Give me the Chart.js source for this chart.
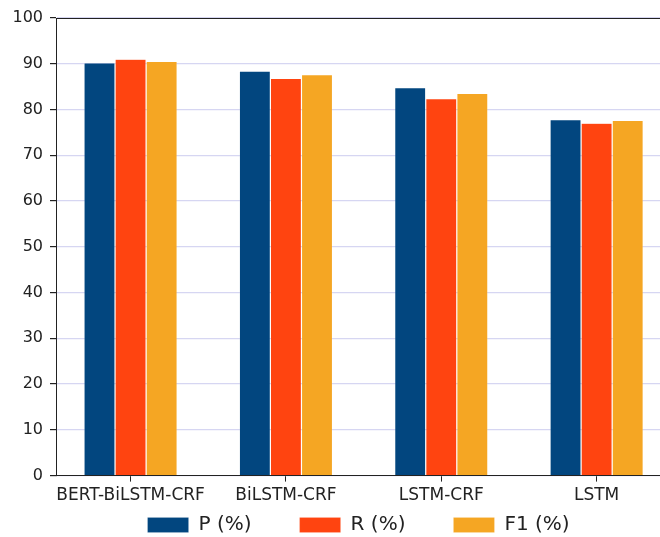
<!DOCTYPE html>
<html>
<head>
<meta charset="utf-8">
<script src="https://cdn.jsdelivr.net/npm/chart.js@4.4.1/dist/chart.umd.min.js"></script>
<style>
  html, body { margin: 0; padding: 0; background: #ffffff; overflow: hidden; }
  #wrap { position: relative; width: 690px; height: 537px; }
</style>
</head>
<body>
<div id="wrap"><canvas id="c"></canvas></div>
<script>
const categories = ["BERT-BiLSTM-CRF", "BiLSTM-CRF", "LSTM-CRF", "LSTM"];
const seriesNames = ["P (%)", "R (%)", "F1 (%)"];
const pValues  = [90.2, 88.4, 84.8, 77.8];
const rValues  = [91.0, 86.8, 82.4, 77.0];
const f1Values = [90.5, 87.6, 83.5, 77.6];
const yTicks = [0, 10, 20, 30, 40, 50, 60, 70, 80, 90, 100];
const colors = ["#02467F", "#FF4410", "#F5A623"];

const FONT = "'DejaVu Sans', 'Liberation Sans', sans-serif";
const toPoints = vals => vals.map((v, i) => ({ x: i, y: v }));
const allSeries = [pValues, rValues, f1Values];

const LEGEND_PAD = 48;     // horizontal spacing between legend entries
const LEGEND_GAP = 5;      // vertical gap between tick labels and legend row

// Legend padding in Chart.js is used both horizontally and vertically;
// lift the legend row so only the horizontal spacing is kept.
const legendLift = {
  id: "legendLift",
  afterLayout(chart) {
    const lg = chart.legend;
    if (!lg) return;
    const dy = LEGEND_PAD - LEGEND_GAP;
    lg.top -= dy;
    lg.height += dy;
    lg.left -= 5; lg.right -= 5;
  }
};

new Chart(document.getElementById("c"), {
  type: "bar",
  data: {
    datasets: allSeries.map((vals, k) => ({
      label: seriesNames[k],
      data: toPoints(vals),
      backgroundColor: colors[k],
      borderColor: "rgba(255,255,255,0.25)",
      borderWidth: 0.6,
      categoryPercentage: 0.6,
      barPercentage: 1.0
    }))
  },
  plugins: [legendLift],
  options: {
    responsive: true,
    maintainAspectRatio: false,
    animation: false,
    devicePixelRatio: 1,
    layout: { padding: { left: 0, right: 18.8, top: 18, bottom: 0 } },
    plugins: {
      tooltip: { enabled: false },
      legend: {
        position: "bottom",
        fullSize: false,
        maxHeight: 27,
        labels: {
          boxWidth: 41,
          boxHeight: 15,
          padding: LEGEND_PAD,
          color: "#222222",
          font: { family: FONT, size: 20 }
        }
      }
    },
    scales: {
      x: {
        type: "linear",
        min: -0.48,
        max: 3.48,
        offset: false,
        afterBuildTicks: s => { s.ticks = categories.map((_, i) => ({ value: i })); },
        grid: { offset: false, drawOnChartArea: false, drawTicks: true, tickLength: 6, tickColor: "#222222" },
        border: { display: true, color: "#222222", width: 1 },
        ticks: {
          autoSkip: false,
          maxRotation: 0,
          padding: 4,
          color: "#222222",
          font: { family: FONT, size: 17 },
          callback: v => categories[v] !== undefined ? categories[v] : ""
        }
      },
      xTop: {
        type: "linear",
        position: "top",
        min: -0.48,
        max: 3.48,
        grid: { display: false, drawTicks: false },
        ticks: { display: false },
        border: { display: true, color: "#222222", width: 1 },
        afterFit: s => { s.height = 0; }
      },
      y: {
        min: 0,
        max: 100,
        afterBuildTicks: s => { s.ticks = yTicks.map(v => ({ value: v })); },
        afterFit: s => { s.width = 56; },
        grid: { color: "#d6d6f2", lineWidth: 1.2, drawTicks: true, tickLength: 6, tickColor: "#222222" },
        border: { display: true, color: "#222222", width: 1 },
        ticks: {
          padding: 7,
          color: "#222222",
          font: { family: FONT, size: 16 }
        }
      }
    }
  }
});
</script>
</body>
</html>
